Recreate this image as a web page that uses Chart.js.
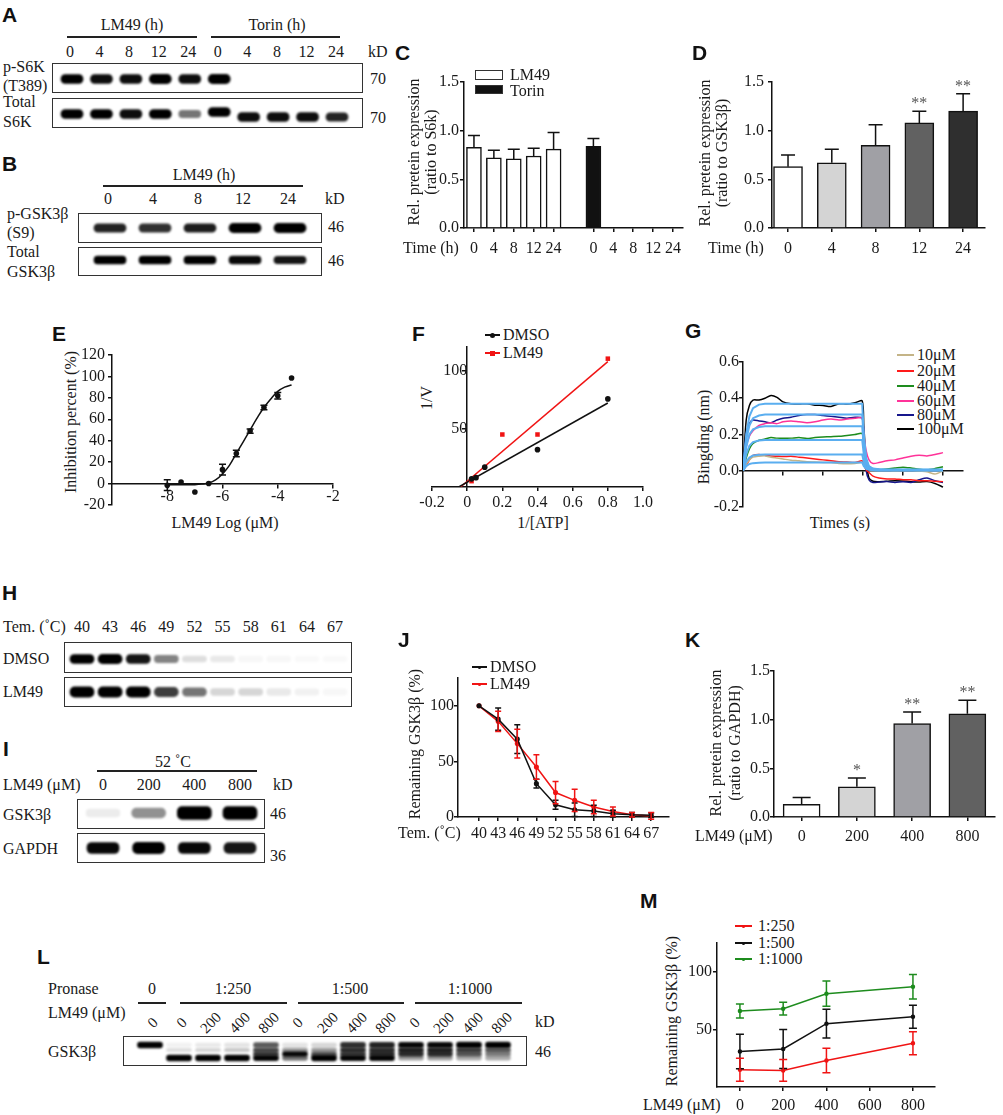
<!DOCTYPE html>
<html>
<head>
<meta charset="utf-8">
<script src="https://cdn.jsdelivr.net/npm/chart.js@4.4.1/dist/chart.umd.min.js"></script>
<style>
  body { margin: 0; background: #fff; }
  #fig { position: relative; width: 1003px; height: 1115px; overflow: hidden; background: #fff; }
  .t { position: absolute; white-space: nowrap; font: 16px 'Liberation Serif', serif; color: #1a1a1a; line-height: 1; }
  .p { font: bold 21px 'Liberation Sans', Arial, sans-serif; color: #111; }
  .ln { position: absolute; height: 1.5px; background: #222; }
  .bx { position: absolute; box-sizing: border-box; border: 1.5px solid #333; }
  canvas { position: absolute; }
</style>
</head>
<body>
<div id="fig"></div>
<script>
/* ---- Data ---- */

// A: blot band intensities (0-1)
const aLanes = ['0', '4', '8', '12', '24', '0', '4', '8', '12', '24'];
const aPS6K = [0.95, 0.88, 0.88, 0.97, 0.88, 0.97, 0, 0, 0, 0];
const aTotalS6K = [0.92, 0.95, 0.88, 0.95, 0.5, 0.95, 0.88, 0.88, 0.88, 0.8];

// B
const bLanes = ['0', '4', '8', '12', '24'];
const bPGSK = [0.8, 0.75, 0.82, 1, 1];
const bTotalGSK = [0.95, 0.95, 0.95, 0.9, 0.85];

// C
const cTimes = ['0', '4', '8', '12', '24'];
const cLM49 = [0.83, 0.72, 0.71, 0.74, 0.81];
const cLM49Err = [0.12, 0.08, 0.1, 0.08, 0.17];
const cTorin = [0.84, 0, 0, 0, 0];
const cTorinErr = [0.08, 0, 0, 0, 0];
const relTicks = [0, 0.5, 1.0, 1.5];

// D
const dTimes = ['0', '4', '8', '12', '24'];
const dVals = [0.63, 0.67, 0.85, 1.08, 1.2];
const dErr = [0.12, 0.14, 0.21, 0.12, 0.18];
const dStars = ['', '', '', '**', '**'];

// E
const eLogDose = [-8, -7.5, -7, -6.5, -6, -5.5, -5, -4.5, -4, -3.5];
const eInhib = [-1.5, 1.5, -7.8, 0, 13, 28, 49, 71, 82, 98.6];
const eErr = [5, 0, 0, 0, 5, 3, 2, 2, 3, 0];
const eFitX = [-8, -7.5, -7, -6.75, -6.5, -6.25, -6, -5.75, -5.5, -5.25, -5, -4.75, -4.5, -4.25, -4, -3.75, -3.5];
const eFitY = [-1.2, -1.2, -1, -0.5, 0.6, 3.5, 9, 17, 28, 39, 50, 61, 71, 79, 86, 90, 92];
const eXTicks = [-8, -6, -4, -2];
const eYTicks = [-20, 0, 20, 40, 60, 80, 100, 120];

// F
const fDMSOX = [0.025, 0.05, 0.1, 0.4, 0.8];
const fDMSOY = [7, 8, 17, 32, 75.5];
const fLM49X = [0.025, 0.05, 0.2, 0.4, 0.8];
const fLM49Y = [5, 8, 45, 45, 110];
const fDMSOLine = [[-0.048, 0], [0.8, 72]];
const fLM49Line = [[-0.038, 0], [0.8, 107.5]];
const fXTicks = [-0.2, 0, 0.2, 0.4, 0.6, 0.8, 1.0];
const fXLabels = ['-0.2', '0', '0.2', '0.4', '0.6', '0.8', '1.0'];
const fYTicks = [50, 100];

// G
const gConc = ['10μM', '20μM', '40μM', '60μM', '80μM', '100μM'];
const gTime = [0, 8, 16, 25, 40, 55, 70, 85, 100, 120, 140, 160, 180, 200, 220, 240, 260, 280, 298, 302, 308, 315, 325, 340, 360, 380, 400, 420, 440, 460, 480, 500];
const g10 = [0, 0.035, 0.06, 0.075, 0.08, 0.082, 0.075, 0.07, 0.065, 0.058, 0.055, 0.05, 0.048, 0.046, 0.045, 0.04, 0.038, 0.04, 0.046, 0.03, 0.018, 0.012, 0.01, 0.008, 0.005, 0, 0.002, 0.004, -0.002, -0.006, -0.018, 0];
const g20 = [0, 0.03, 0.06, 0.085, 0.09, 0.085, 0.082, 0.08, 0.078, 0.08, 0.075, 0.07, 0.065, 0.06, 0.055, 0.05, 0.048, 0.045, 0.055, 0.03, 0.005, -0.01, -0.03, -0.04, -0.045, -0.045, -0.05, -0.05, -0.055, -0.055, -0.058, -0.06];
const g40 = [0, 0.07, 0.12, 0.15, 0.168, 0.175, 0.183, 0.18, 0.179, 0.18, 0.183, 0.178, 0.183, 0.186, 0.188, 0.19, 0.195, 0.2, 0.205, 0.12, 0.04, 0.02, 0.01, 0.005, 0.01, 0.015, 0.02, 0.015, 0.008, 0.005, 0.012, 0.022];
const g60 = [0, 0.13, 0.19, 0.22, 0.25, 0.26, 0.265, 0.26, 0.27, 0.275, 0.27, 0.265, 0.27, 0.28, 0.285, 0.28, 0.285, 0.29, 0.29, 0.2, 0.11, 0.06, 0.04, 0.045, 0.055, 0.06, 0.07, 0.08, 0.085, 0.082, 0.09, 0.1];
const g80 = [0, 0.2, 0.26, 0.28, 0.275, 0.27, 0.265, 0.28, 0.29, 0.295, 0.305, 0.31, 0.31, 0.305, 0.3, 0.295, 0.29, 0.295, 0.29, 0.18, 0, -0.05, -0.065, -0.062, -0.06, -0.065, -0.06, -0.065, -0.05, -0.04, -0.055, -0.065];
const g100 = [0, 0.28, 0.36, 0.39, 0.39, 0.4, 0.415, 0.405, 0.38, 0.37, 0.368, 0.37, 0.362, 0.36, 0.355, 0.37, 0.368, 0.375, 0.385, 0.25, 0.05, -0.04, -0.058, -0.06, -0.058, -0.055, -0.057, -0.06, -0.062, -0.06, -0.07, -0.09];
const gFit10 = [0, 0.025, 0.037, 0.042, 0.044, 0.045, 0.045, 0.045, 0.045, 0.045, 0.045, 0.045, 0.045, 0.045, 0.045, 0.045, 0.045, 0.045, 0.045, 0.025, 0.01, 0.005, 0.003, 0.002, 0.002, 0.002, 0.002, 0.002, 0.002, 0.002, 0.002, 0.002];
const gFit20 = [0, 0.05, 0.073, 0.084, 0.088, 0.09, 0.09, 0.09, 0.09, 0.09, 0.09, 0.09, 0.09, 0.09, 0.09, 0.09, 0.09, 0.09, 0.09, 0.05, 0.018, 0.007, 0.004, 0.003, 0.003, 0.003, 0.003, 0.003, 0.003, 0.003, 0.003, 0.003];
const gFit40 = [0, 0.09, 0.138, 0.158, 0.167, 0.17, 0.17, 0.17, 0.17, 0.17, 0.17, 0.17, 0.17, 0.17, 0.17, 0.17, 0.17, 0.17, 0.17, 0.09, 0.03, 0.012, 0.006, 0.005, 0.004, 0.004, 0.004, 0.004, 0.004, 0.004, 0.004, 0.004];
const gFit60 = [0, 0.13, 0.2, 0.228, 0.241, 0.245, 0.245, 0.245, 0.245, 0.245, 0.245, 0.245, 0.245, 0.245, 0.245, 0.245, 0.245, 0.245, 0.245, 0.13, 0.045, 0.016, 0.008, 0.006, 0.005, 0.005, 0.005, 0.005, 0.005, 0.005, 0.005, 0.005];
const gFit80 = [0, 0.17, 0.25, 0.29, 0.305, 0.31, 0.31, 0.31, 0.31, 0.31, 0.31, 0.31, 0.31, 0.31, 0.31, 0.31, 0.31, 0.31, 0.31, 0.17, 0.06, 0.02, 0.01, 0.007, 0.005, 0.005, 0.005, 0.005, 0.005, 0.005, 0.005, 0.005];
const gFit100 = [0, 0.2, 0.3, 0.345, 0.365, 0.37, 0.37, 0.37, 0.37, 0.37, 0.37, 0.37, 0.37, 0.37, 0.37, 0.37, 0.37, 0.37, 0.37, 0.2, 0.07, 0.025, 0.012, 0.008, 0.006, 0.005, 0.005, 0.005, 0.005, 0.005, 0.005, 0.005];
const gXTicks = [100, 200, 300, 400, 500];
const gYTicks = [-0.2, 0, 0.2, 0.4, 0.6];

// H
const hTemps = ['40', '43', '46', '49', '52', '55', '58', '61', '64', '67'];
const hDMSO = [0.95, 1.0, 0.85, 0.45, 0.12, 0.08, 0.03, 0.03, 0.02, 0.02];
const hLM49 = [1.0, 0.95, 0.95, 0.7, 0.5, 0.15, 0.15, 0.08, 0.05, 0.03];

// I
const iDose = ['0', '200', '400', '800'];
const iGSK = [0.07, 0.4, 1.0, 1.0];
const iGAPDH = [0.9, 1.0, 0.9, 0.85];

// J
const jTemps = [40, 43, 46, 49, 52, 55, 58, 61, 64, 67];
const jDMSO = [100, 88, 70, 30, 11, 6.5, 5.5, 3, 2, 1.5];
const jDMSOErr = [0, 10, 13, 4, 4, 6, 5, 3, 2, 2];
const jLM49 = [100, 86, 66, 45, 22, 15, 9, 5, 2, 1];
const jLM49Err = [0, 9, 13, 11, 10, 10, 6, 4, 2, 3];
const jYTicks = [0, 50, 100];

// K
const kDose = ['0', '200', '400', '800'];
const kVals = [0.13, 0.31, 0.96, 1.06];
const kErr = [0.07, 0.09, 0.12, 0.14];
const kStars = ['', '*', '**', '**'];

// L: four band rows, top (full length) to bottom (most cleaved)
const lPronase = ['0', '1:250', '1:500', '1:1000'];
const lDose = ['0', '0', '200', '400', '800', '0', '200', '400', '800', '0', '200', '400', '800'];
const lRow1 = [1.0, 0.05, 0.08, 0.1, 0.6, 0.1, 0.15, 0.75, 0.8, 0.9, 0.9, 1.0, 1.0];
const lRow2 = [0, 0.12, 0.15, 0.2, 0.65, 0.35, 0.35, 0.75, 0.75, 0.8, 0.8, 0.7, 0.6];
const lRow3 = [0, 0, 0, 0, 0.7, 0.9, 0.6, 0.7, 0.75, 0.75, 0.75, 0.6, 0.45];
const lRow4 = [0, 1.0, 1.0, 0.95, 0.9, 0.5, 1.0, 0.9, 0.9, 0.35, 0.35, 0.3, 0.3];

// M
const mDose = [0, 200, 400, 800];
const m250 = [15, 14.4, 23, 38];
const m250Err = [10, 9.5, 10.7, 10];
const m500 = [30.8, 33, 55, 61];
const m500Err = [15, 17, 12.5, 10];
const m1000 = [66, 68, 81, 87];
const m1000Err = [6, 5.5, 11, 10.7];
const mXTicks = [0, 200, 400, 600, 800];
const mYTicks = [50, 100];

/* ---- Helpers ---- */

const fig = document.getElementById('fig');
const INK = '#111';
const RED = '#f01414';
const GREEN = '#1e8c1e';
const SERIF = "'Liberation Serif', serif";
const P = { l: 50, t: 14, r: 16, b: 30 };

function t(s, x, y, o = {}) {
  const d = document.createElement('div');
  d.className = 't' + (o.cls ? ' ' + o.cls : '');
  d.textContent = s;
  let tr = 'translateY(-50%)';
  if (o.a === 'c') tr = 'translate(-50%,-50%)';
  if (o.a === 'r') tr = 'translate(-100%,-50%)';
  if (o.rot) tr += ` rotate(${o.rot}deg)`;
  d.style.left = x + 'px';
  d.style.top = y + 'px';
  d.style.transform = tr;
  if (o.size) d.style.fontSize = o.size + 'px';
  fig.appendChild(d);
}

function hl(x0, x1, y) {
  const d = document.createElement('div');
  d.className = 'ln';
  d.style.cssText = `left:${x0}px;top:${y - 0.75}px;width:${x1 - x0}px`;
  fig.appendChild(d);
}

function box(x0, y0, x1, y1, fill) {
  const d = document.createElement('div');
  d.className = 'bx';
  d.style.cssText = `left:${x0}px;top:${y0}px;width:${x1 - x0}px;height:${y1 - y0}px;background:${fill || 'transparent'}`;
  fig.appendChild(d);
}

function key(x0, x1, y, col, mark, size) {
  const d = document.createElement('div');
  d.style.cssText = `position:absolute;left:${x0}px;top:${y - 0.75}px;width:${x1 - x0}px;height:1.5px;background:${col}`;
  fig.appendChild(d);
  if (mark) {
    const m = document.createElement('div');
    const s = size || 4;
    m.style.cssText = `position:absolute;left:${(x0 + x1) / 2 - s / 2}px;top:${y - s / 2}px;width:${s}px;height:${s}px;background:${col};border-radius:${mark === 'circle' ? '50%' : '0'}`;
    fig.appendChild(m);
  }
}

const lanePos = (first, last, n) => Array.from({ length: n }, (_, i) => first + (i * (last - first)) / (n - 1));

function area(L, T, R, B) {
  const c = document.createElement('canvas');
  const w = R - L + P.l + P.r;
  const h = B - T + P.t + P.b;
  c.width = w;
  c.height = h;
  c.style.cssText = `left:${L - P.l}px;top:${T - P.t}px;width:${w}px;height:${h}px`;
  fig.appendChild(c);
  return c;
}

function axis(o) {
  const ticks = Object.assign({ font: { family: SERIF, size: 16 }, color: '#1a1a1a', padding: 1, maxRotation: 0, minRotation: 0, autoSkip: false }, o.ticks || {});
  const grid = Object.assign({ drawOnChartArea: false, drawTicks: true, tickLength: 4, color: INK, lineWidth: 1.5, offset: false }, o.grid || {});
  return Object.assign({}, o, { ticks, grid, border: { color: INK, width: 1.5 } });
}

function opts(scales, yStd, xStd) {
  return {
    responsive: false,
    animation: false,
    events: [],
    layout: { padding: { top: P.t, right: P.r, left: yStd ? 0 : P.l, bottom: xStd ? 0 : P.b } },
    plugins: { legend: { display: false }, tooltip: { enabled: false } },
    scales,
  };
}

const fitY = (s) => { s.width = P.l; };
const fitX = (s) => { s.height = P.b; };
const setTicks = (vals) => (s) => { s.ticks = vals.map((v) => ({ value: v })); };

/* error bars + significance stars */
const errorBars = {
  id: 'errorBars',
  afterDatasetsDraw(chart) {
    const ctx = chart.ctx;
    chart.data.datasets.forEach((ds, di) => {
      if (!ds.errors && !ds.stars) return;
      const meta = chart.getDatasetMeta(di);
      const ys = chart.scales[meta.yAxisID];
      ctx.save();
      ctx.strokeStyle = ds.errColor || INK;
      ctx.lineWidth = 1.5;
      meta.data.forEach((el, i) => {
        const p = meta.controller.getParsed(i);
        if (!p || p.y == null || isNaN(p.y)) return;
        const e = ds.errors ? ds.errors[i] || 0 : 0;
        const top = ys.getPixelForValue(p.y + e);
        if (e) {
          const bot = ys.getPixelForValue(ds.errUp ? p.y : p.y - e);
          const w = ds.capW || 4;
          ctx.beginPath();
          ctx.moveTo(el.x, top);
          ctx.lineTo(el.x, bot);
          ctx.moveTo(el.x - w, top);
          ctx.lineTo(el.x + w, top);
          if (!ds.errUp) {
            ctx.moveTo(el.x - w, bot);
            ctx.lineTo(el.x + w, bot);
          }
          ctx.stroke();
        }
        if (ds.stars && ds.stars[i]) {
          ctx.fillStyle = '#555';
          ctx.font = `16px ${SERIF}`;
          ctx.textAlign = 'center';
          ctx.textBaseline = 'alphabetic';
          ctx.fillText(ds.stars[i], el.x, top - 3);
        }
      });
      ctx.restore();
    });
  },
};

/* blots: bands are floating bars, softened a little */
const soften = {
  id: 'soften',
  beforeDatasetsDraw(ch) { ch.ctx.save(); ch.ctx.filter = 'blur(0.9px)'; },
  afterDatasetsDraw(ch) { ch.ctx.restore(); },
};

function blot(x0, y0, x1, y1, first, last, rows, bw) {
  const n = rows[0].v.length;
  const unit = (last - first) / (n - 1);
  const w = x1 - x0;
  const h = y1 - y0;
  const c = document.createElement('canvas');
  c.width = w;
  c.height = h;
  c.style.cssText = `left:${x0}px;top:${y0}px;width:${w}px;height:${h}px`;
  fig.appendChild(c);
  box(x0, y0, x1, y1);
  new Chart(c, {
    type: 'bar',
    data: {
      datasets: rows.map((r) => ({
        grouped: false,
        barThickness: bw,
        borderRadius: 5,
        borderSkipped: false,
        borderWidth: 0,
        backgroundColor: r.v.map((v) => `rgba(0,0,0,${Math.min(1, v * 1.08)})`),
        data: r.v.map((v, i) => {
          const yc = Array.isArray(r.y) ? r.y[i] : r.y;
          const th = r.h * (0.7 + 0.45 * v);
          return { x: i, y: [yc - th / 2, yc + th / 2] };
        }),
      })),
    },
    options: {
      responsive: false,
      animation: false,
      events: [],
      layout: { padding: 0 },
      plugins: { legend: { display: false }, tooltip: { enabled: false } },
      scales: {
        x: { type: 'linear', display: false, offset: false, min: -(first - x0) / unit, max: n - 1 + (x1 - last) / unit },
        y: { type: 'linear', display: false, min: 0, max: h, reverse: true },
      },
    },
    plugins: [soften],
  });
}

const pts = (xs, ys) => xs.map((x, i) => ({ x, y: ys[i] }));

/* ---- A ---- */
t('A', 2, 15, { cls: 'p' });
t('LM49 (h)', 132, 25, { a: 'c' });
hl(67, 197, 37);
t('Torin (h)', 277, 25, { a: 'c' });
hl(211, 340, 37);
lanePos(70, 336, 10).forEach((x, i) => t(aLanes[i], x, 52, { a: 'c' }));
t('kD', 368, 52);
t('p-S6K', 3, 67);
t('(T389)', 3, 86);
t('Total', 3, 102);
t('S6K', 3, 122);
t('70', 370, 79);
t('70', 370, 118);
blot(52, 63, 363, 93, 72, 337, [{ v: aPS6K, y: 16, h: 8 }], 22);
blot(52, 98, 363, 128, 72, 337, [{ v: aTotalS6K, y: [16, 16, 16, 16, 16, 14, 19, 19, 19, 19], h: 8 }], 22);

/* ---- B ---- */
t('B', 2, 164, { cls: 'p' });
t('LM49 (h)', 204, 175, { a: 'c' });
hl(103, 303, 186);
lanePos(108, 288, 5).forEach((x, i) => t(bLanes[i], x, 199, { a: 'c' }));
t('kD', 325, 199);
t('p-GSK3β', 7, 214);
t('(S9)', 7, 233);
t('Total', 7, 252);
t('GSK3β', 7, 272);
t('46', 328, 227);
t('46', 328, 261);
blot(78, 213, 322, 243, 110, 290, [{ v: bPGSK, y: 15, h: 8 }], 32);
blot(78, 247, 322, 276, 110, 290, [{ v: bTotalGSK, y: 13, h: 7 }], 32);

/* ---- C ---- */
t('C', 395, 53, { cls: 'p' });
box(475, 70, 503, 80, '#fff');
t('LM49', 510, 75);
box(475, 85, 503, 94, INK);
t('Torin', 510, 91);
t('Rel. pretein expression', 414, 152, { a: 'c', rot: -90 });
t('(ratio to S6k)', 431, 152, { a: 'c', rot: -90 });
t('Time (h)', 431, 248, { a: 'c' });
new Chart(area(464, 82, 683, 228), {
  type: 'bar',
  data: {
    labels: cTimes.concat([''], cTimes),
    datasets: [
      {
        data: cLM49.concat(Array(6).fill(null)),
        errors: cLM49Err.concat(Array(6).fill(0)),
        errUp: true, capW: 6,
        backgroundColor: '#fff', borderColor: INK, borderWidth: 1.5, barThickness: 15, grouped: false,
      },
      {
        data: Array(6).fill(null).concat(cTorin),
        errors: Array(6).fill(0).concat(cTorinErr),
        errUp: true, capW: 6,
        backgroundColor: INK, borderColor: INK, borderWidth: 1.5, barThickness: 15, grouped: false,
      },
    ],
  },
  options: opts({
    x: axis({ type: 'category', offset: true, grid: { tickColor: (c) => (c.index === 5 ? 'rgba(0,0,0,0)' : INK) }, ticks: { padding: 7 }, afterFit: fitX }),
    y: axis({ type: 'linear', min: 0, max: 1.5, afterBuildTicks: setTicks(relTicks), ticks: { callback: (v) => v.toFixed(1) }, afterFit: fitY }),
  }, true, true),
  plugins: [errorBars],
});

/* ---- D ---- */
t('D', 692, 53, { cls: 'p' });
t('Rel. pretein expression', 705, 153, { a: 'c', rot: -90 });
t('(ratio to GSK3β)', 722, 153, { a: 'c', rot: -90 });
t('Time (h)', 736, 248, { a: 'c' });
new Chart(area(772, 82, 985, 228), {
  type: 'bar',
  data: {
    datasets: [{
      data: dVals.map((v, i) => ({ x: i, y: v })),
      errors: dErr, errUp: true, capW: 7, stars: dStars,
      backgroundColor: ['#ffffff', '#d4d4d4', '#a0a0a5', '#616161', '#2f2f2f'],
      borderColor: INK, borderWidth: 1.5, barThickness: 29, grouped: false,
    }],
  },
  options: opts({
    x: axis({ type: 'linear', offset: false, min: -0.366, max: 4.5, afterBuildTicks: setTicks([0, 1, 2, 3, 4]), ticks: { padding: 7, callback: (v, i) => dTimes[i] }, afterFit: fitX }),
    y: axis({ type: 'linear', min: 0, max: 1.5, afterBuildTicks: setTicks(relTicks), ticks: { padding: 4, callback: (v) => v.toFixed(1) }, afterFit: fitY }),
  }, true, true),
  plugins: [errorBars],
});

/* ---- E ---- */
t('E', 52, 334, { cls: 'p' });
t('Inhibition percent (%)', 71, 422, { a: 'c', rot: -90 });
t('LM49 Log (μM)', 225, 523, { a: 'c' });
new Chart(area(112, 355, 333, 505), {
  type: 'scatter',
  data: {
    datasets: [
      { data: pts(eLogDose, eInhib), errors: eErr, capW: 3.5, pointRadius: 2.8, backgroundColor: INK, borderWidth: 0 },
      { type: 'line', data: pts(eFitX, eFitY), borderColor: INK, borderWidth: 1.5, pointRadius: 0, tension: 0.4, fill: false },
    ],
  },
  options: opts({
    x: axis({ type: 'linear', position: { y: 0 }, min: -10, max: -2, afterBuildTicks: setTicks(eXTicks), ticks: { padding: 0 } }),
    y: axis({ type: 'linear', position: 'left', min: -20, max: 120, afterBuildTicks: setTicks(eYTicks), ticks: { padding: 3 }, afterFit: fitY }),
  }, true, false),
  plugins: [errorBars],
});

/* ---- F ---- */
t('F', 412, 334, { cls: 'p' });
key(485, 500, 335, INK, 'circle', 5);
t('DMSO', 503, 335);
key(485, 500, 353, RED, 'square', 5);
t('LM49', 503, 353);
t('1/V', 427, 398, { a: 'c', rot: -90 });
t('1/[ATP]', 543, 523, { a: 'c' });
new Chart(area(432, 347, 643, 487), {
  type: 'scatter',
  data: {
    datasets: [
      { data: pts(fDMSOX, fDMSOY), pointRadius: 2.8, backgroundColor: INK, borderWidth: 0 },
      { data: pts(fLM49X, fLM49Y), pointStyle: 'rect', pointRadius: 3.2, backgroundColor: RED, borderWidth: 0 },
      { data: fDMSOLine.map(([x, y]) => ({ x, y })), showLine: true, borderColor: INK, borderWidth: 1.5, pointRadius: 0 },
      { data: fLM49Line.map(([x, y]) => ({ x, y })), showLine: true, borderColor: RED, borderWidth: 1.5, pointRadius: 0 },
    ],
  },
  options: opts({
    x: axis({ type: 'linear', position: 'bottom', min: -0.2, max: 1.0, afterBuildTicks: setTicks(fXTicks), ticks: { padding: 2, callback: (v, i) => fXLabels[i] }, afterFit: fitX }),
    y: axis({ type: 'linear', position: { x: 0 }, min: 0, max: 120, afterBuildTicks: setTicks(fYTicks), ticks: { padding: 1 } }),
  }, false, true),
});

/* ---- G ---- */
t('G', 685, 331, { cls: 'p' });
const gColors = ['#c4b487', '#ff1a1a', '#1e8c1e', '#ff3399', '#16168c', '#000000'];
const gData = [g10, g20, g40, g60, g80, g100];
const gFits = [gFit10, gFit20, gFit40, gFit60, gFit80, gFit100];
[355, 371, 386, 401, 415, 429].forEach((y, i) => {
  key(897, 914, y, gColors[i]);
  t(gConc[i], 917, y);
});
t('Bingding (nm)', 704, 437, { a: 'c', rot: -90 });
t('Times (s)', 840, 523, { a: 'c' });
new Chart(area(743, 362, 963, 507), {
  type: 'scatter',
  data: {
    datasets: gFits.map((f) => ({ data: pts(gTime, f), showLine: true, borderColor: '#5aaef0', borderWidth: 2, pointRadius: 0, order: 0 }))
      .concat(gData.map((g, i) => ({ data: pts(gTime, g), showLine: true, borderColor: gColors[i], borderWidth: 1.5, pointRadius: 0, tension: 0.25, order: 1 }))),
  },
  options: opts({
    x: axis({ type: 'linear', position: { y: 0 }, min: 0, max: 550, afterBuildTicks: setTicks(gXTicks), ticks: { callback: () => '' } }),
    y: axis({ type: 'linear', position: 'left', min: -0.2, max: 0.6, afterBuildTicks: setTicks(gYTicks), ticks: { padding: 0, callback: (v) => v.toFixed(1) }, afterFit: fitY }),
  }, true, false),
});

/* ---- H ---- */
t('H', 2, 593, { cls: 'p' });
t('Tem. (˚C)', 3, 627);
lanePos(82, 335, 10).forEach((x, i) => t(hTemps[i], x, 627, { a: 'c' }));
t('DMSO', 3, 659);
t('LM49', 3, 692);
blot(64, 642, 352, 673, 82, 335, [{ v: hDMSO, y: 17, h: 8 }], 24);
blot(64, 677, 352, 707, 82, 335, [{ v: hLM49, y: 15, h: 9 }], 24);

/* ---- I ---- */
t('I', 3, 749, { cls: 'p' });
t('52 ˚C', 173, 762, { a: 'c' });
hl(97, 257, 771);
t('LM49 (μM)', 3, 785);
lanePos(103, 240, 4).forEach((x, i) => t(iDose[i], x, 785, { a: 'c' }));
t('kD', 273, 785);
t('GSK3β', 3, 815);
t('GAPDH', 3, 849);
t('46', 270, 814);
t('36', 270, 856);
blot(77, 799, 265, 829, 103, 240, [{ v: iGSK, y: 14, h: 11 }], 34);
blot(77, 833, 265, 863, 103, 240, [{ v: iGAPDH, y: 15, h: 10 }], 32);

/* ---- J ---- */
t('J', 398, 640, { cls: 'p' });
key(472, 487, 667, INK, 'circle', 3);
t('DMSO', 490, 667);
key(472, 487, 684, RED, 'circle', 3);
t('LM49', 490, 684);
t('Remaining GSK3β (%)', 415, 744, { a: 'c', rot: -90 });
t('Tem. (˚C)', 398, 833);
new Chart(area(458, 678, 669, 817), {
  type: 'scatter',
  data: {
    datasets: [
      { data: pts(jTemps, jDMSO), errors: jDMSOErr, errColor: INK, capW: 3, showLine: true, borderColor: INK, backgroundColor: INK, borderWidth: 1.5, pointRadius: 1.8 },
      { data: pts(jTemps, jLM49), errors: jLM49Err, errColor: RED, capW: 3, showLine: true, borderColor: RED, backgroundColor: RED, borderWidth: 1.5, pointRadius: 1.8 },
    ],
  },
  options: opts({
    x: axis({ type: 'linear', min: 36.7, max: 69.8, afterBuildTicks: setTicks(jTemps), ticks: { padding: 3 }, afterFit: fitX }),
    y: axis({ type: 'linear', min: 0, max: 125, afterBuildTicks: setTicks(jYTicks), ticks: { padding: 0 }, afterFit: fitY }),
  }, true, true),
  plugins: [errorBars],
});

/* ---- K ---- */
t('K', 685, 640, { cls: 'p' });
t('Rel. pretein expression', 716, 743, { a: 'c', rot: -90 });
t('(ratio to GAPDH)', 735, 743, { a: 'c', rot: -90 });
t('LM49 (μM)', 695, 836);
new Chart(area(774, 671, 995, 817), {
  type: 'bar',
  data: {
    labels: kDose,
    datasets: [{
      data: kVals, errors: kErr, errUp: true, capW: 9, stars: kStars,
      backgroundColor: ['#ffffff', '#d4d4d4', '#a0a0a5', '#616161'],
      borderColor: INK, borderWidth: 1.5, barThickness: 37, grouped: false,
    }],
  },
  options: opts({
    x: axis({ type: 'category', offset: true, ticks: { padding: 6 }, afterFit: fitX }),
    y: axis({ type: 'linear', min: 0, max: 1.5, afterBuildTicks: setTicks(relTicks), ticks: { padding: 0, callback: (v) => v.toFixed(1) }, afterFit: fitY }),
  }, true, true),
  plugins: [errorBars],
});

/* ---- L ---- */
t('L', 37, 957, { cls: 'p' });
t('Pronase', 48, 989);
[[152, 138, 166], [233, 180, 287], [350, 298, 404], [470, 415, 522]].forEach(([cx, x0, x1], i) => {
  t(lPronase[i], cx, 989, { a: 'c' });
  hl(x0, x1, 1003);
});
t('LM49 (μM)', 48, 1013);
lanePos(153, 502, 13).forEach((x, i) => t(lDose[i], x, 1023, { a: 'c', rot: -45, size: 15 }));
t('GSK3β', 48, 1052);
t('kD', 535, 1022);
t('46', 535, 1052);
blot(123, 1036, 527, 1066, 150, 498, [
  { v: lRow1, y: 9, h: 5 },
  { v: lRow2, y: 14, h: 4.5 },
  { v: lRow3, y: 18, h: 4.5 },
  { v: lRow4, y: 22, h: 5 },
], 25);

/* ---- M ---- */
t('M', 640, 901, { cls: 'p' });
key(735, 752, 926, RED, 'circle', 3);
t('1:250', 758, 926);
key(735, 752, 943, INK, 'circle', 3);
t('1:500', 758, 943);
key(735, 752, 959, GREEN, 'circle', 3);
t('1:1000', 758, 959);
t('Remaining GSK3β (%)', 672, 1011, { a: 'c', rot: -90 });
t('LM49 (μM)', 643, 1105);
new Chart(area(717, 943, 935, 1087), {
  type: 'scatter',
  data: {
    datasets: [
      { data: pts(mDose, m1000), errors: m1000Err, errColor: GREEN, capW: 4, showLine: true, borderColor: GREEN, backgroundColor: GREEN, borderWidth: 1.5, pointRadius: 1.5 },
      { data: pts(mDose, m500), errors: m500Err, errColor: INK, capW: 4, showLine: true, borderColor: INK, backgroundColor: INK, borderWidth: 1.5, pointRadius: 1.5 },
      { data: pts(mDose, m250), errors: m250Err, errColor: RED, capW: 4, showLine: true, borderColor: RED, backgroundColor: RED, borderWidth: 1.5, pointRadius: 1.5 },
    ],
  },
  options: opts({
    x: axis({ type: 'linear', min: -106, max: 902, afterBuildTicks: setTicks(mXTicks), ticks: { padding: 5 }, afterFit: fitX }),
    y: axis({ type: 'linear', min: 0, max: 125, afterBuildTicks: setTicks(mYTicks), ticks: { padding: 1 }, afterFit: fitY }),
  }, true, true),
  plugins: [errorBars],
});
</script>
</body>
</html>
